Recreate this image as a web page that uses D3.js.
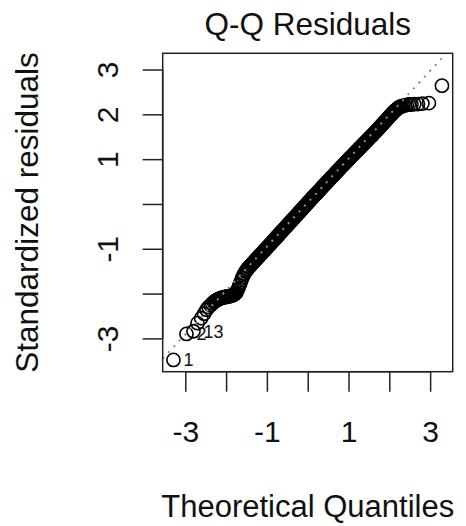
<!DOCTYPE html>
<html><head><meta charset="utf-8">
<script src="https://cdn.jsdelivr.net/npm/d3@7"></script>
<style>
html,body{margin:0;padding:0;background:#fff;}
svg{display:block;font-family:"Liberation Sans",Arial,Helvetica,sans-serif;}
</style>
</head><body>
<svg id="chart" width="466" height="526"></svg>
<script>
// ---- data ----
const theoretical = [
  -3.29,-2.97,-2.80,-2.70,-2.61,-2.54,-2.48,-2.43,-2.38,-2.34,
  -2.300,-2.275,-2.250,-2.225,-2.200,-2.175,-2.150,-2.125,-2.100,-2.075,-2.050,-2.025,
  -2.000,-1.975,-1.950,-1.925,-1.900,-1.875,-1.850,-1.825,-1.800,-1.775,-1.750,-1.725,
  -1.700,-1.675,-1.650,-1.625,-1.600,-1.575,-1.550,-1.525,-1.500,-1.475,-1.450,-1.425,
  -1.400,-1.375,-1.350,-1.325,-1.300,-1.275,-1.250,-1.225,-1.200,-1.175,-1.150,-1.125,
  -1.100,-1.075,-1.050,-1.025,-1.000,-0.975,-0.950,-0.925,-0.900,-0.875,-0.850,-0.825,
  -0.800,-0.775,-0.750,-0.725,-0.700,-0.675,-0.650,-0.625,-0.600,-0.575,-0.550,-0.525,
  -0.500,-0.475,-0.450,-0.425,-0.400,-0.375,-0.350,-0.325,-0.300,-0.275,-0.250,-0.225,
  -0.200,-0.175,-0.150,-0.125,-0.100,-0.075,-0.050,-0.025,0.000,0.025,0.050,0.075,
  0.100,0.125,0.150,0.175,0.200,0.225,0.250,0.275,0.300,0.325,0.350,0.375,
  0.400,0.425,0.450,0.475,0.500,0.525,0.550,0.575,0.600,0.625,0.650,0.675,
  0.700,0.725,0.750,0.775,0.800,0.825,0.850,0.875,0.900,0.925,0.950,0.975,
  1.000,1.025,1.050,1.075,1.100,1.125,1.150,1.175,1.200,1.225,1.250,1.275,
  1.300,1.325,1.350,1.375,1.400,1.425,1.450,1.475,1.500,1.525,1.550,1.575,
  1.600,1.625,1.650,1.675,1.700,1.725,1.750,1.775,1.800,1.825,1.850,1.875,
  1.900,1.925,1.950,1.975,2.000,2.025,2.050,2.075,2.100,2.125,2.150,2.175,
  2.200,2.225,2.250,2.275,
  2.30,2.34,2.38,2.43,2.48,2.54,2.61,2.70,2.81,2.97,3.29
];
const residuals = [
  -3.48,-2.90,-2.84,-2.66,-2.55,-2.45,-2.36,-2.30,-2.26,-2.22,
  -2.19,-2.17,-2.16,-2.14,-2.13,-2.12,-2.11,-2.10,-2.09,-2.09,-2.08,-2.08,
  -2.07,-2.07,-2.06,-2.06,-2.05,-2.05,-2.04,-2.03,-2.02,-2.00,-1.98,-1.93,
  -1.88,-1.82,-1.76,-1.70,-1.64,-1.59,-1.55,-1.51,-1.48,-1.45,-1.42,-1.40,
  -1.37,-1.35,-1.32,-1.30,-1.27,-1.25,-1.22,-1.20,-1.17,-1.15,-1.13,-1.10,
  -1.08,-1.05,-1.03,-1.00,-0.98,-0.95,-0.93,-0.90,-0.88,-0.85,-0.83,-0.80,
  -0.78,-0.75,-0.73,-0.70,-0.68,-0.65,-0.63,-0.60,-0.58,-0.55,-0.53,-0.50,
  -0.48,-0.45,-0.43,-0.40,-0.38,-0.35,-0.33,-0.30,-0.28,-0.25,-0.23,-0.20,
  -0.18,-0.15,-0.13,-0.10,-0.08,-0.05,-0.03,0.00,0.02,0.05,0.07,0.10,
  0.12,0.15,0.17,0.20,0.22,0.24,0.27,0.29,0.32,0.34,0.37,0.39,
  0.42,0.44,0.46,0.49,0.51,0.54,0.56,0.59,0.61,0.63,0.66,0.68,
  0.71,0.73,0.75,0.78,0.80,0.83,0.85,0.87,0.90,0.92,0.95,0.97,
  0.99,1.02,1.04,1.06,1.09,1.11,1.13,1.16,1.18,1.20,1.23,1.25,
  1.27,1.30,1.32,1.34,1.37,1.39,1.41,1.44,1.46,1.48,1.51,1.53,
  1.55,1.58,1.60,1.62,1.65,1.67,1.70,1.72,1.75,1.77,1.80,1.82,
  1.85,1.87,1.90,1.92,1.95,1.97,2.00,2.02,2.05,2.07,2.09,2.11,
  2.13,2.15,2.16,2.17,
  2.18,2.19,2.20,2.21,2.22,2.22,2.23,2.23,2.24,2.25,2.64
];
const pointIds = ["1","2","13"];         // labels of the three most extreme points (first three in order)
const xTicks = [-3,-2,-1,0,1,2,3];
const xTickLabels = ["-3","","-1","","1","","3"];
const yTicks = [-3,-2,-1,0,1,2,3];
const yTickLabels = ["-3","","-1","","1","2","3"];
const qqIntercept = 0.03, qqSlope = 0.98;
const titleText = "Q-Q Residuals";
const xTitle = "Theoretical Quantiles";
const yTitle = "Standardized residuals";

// ---- layout ----
const L = 162.7, R = 452.7, T = 53.3, B = 371.7;
const svg = d3.select("#chart");

// R-style limits
const xr = d3.extent(theoretical);
const xPad = (xr[1]-xr[0])*0.04;
let yr = d3.extent(residuals);
yr = [yr[0], yr[1] + (yr[1]-yr[0])*0.075];
const yPad = (yr[1]-yr[0])*0.04;

const x = d3.scaleLinear().domain([xr[0]-xPad, xr[1]+xPad]).range([L, R]);
const y = d3.scaleLinear().domain([yr[0]-yPad, yr[1]+yPad]).range([B, T]);

const ink = "#111";

svg.append("defs").append("clipPath").attr("id","plotclip")
  .append("rect").attr("x",L).attr("y",T).attr("width",R-L).attr("height",B-T);

// points
const pts = theoretical.map((t,i)=>({t, r: residuals[i]}));
svg.append("g").selectAll("circle").data(pts).join("circle")
  .attr("cx", d=>x(d.t)).attr("cy", d=>y(d.r)).attr("r", 6.6)
  .attr("fill","none").attr("stroke","#000").attr("stroke-width",1.6);

// qq line (on top, as in R)
const xd = x.domain();
svg.append("line").attr("clip-path","url(#plotclip)")
  .attr("x1", x(xd[0])).attr("y1", y(qqIntercept + qqSlope*xd[0]))
  .attr("x2", x(xd[1])).attr("y2", y(qqIntercept + qqSlope*xd[1]))
  .attr("stroke","#8c8c8c").attr("stroke-width",2).attr("stroke-dasharray","2 6");

// id labels
svg.append("g").selectAll("text").data(pointIds).join("text")
  .attr("x", (d,i)=>x(pts[i].t) + 10)
  .attr("y", (d,i)=>y(pts[i].r))
  .attr("dy","0.36em")
  .attr("font-size",18).attr("fill",ink)
  .text(d=>d);

// box
svg.append("rect").attr("x",L).attr("y",T).attr("width",R-L).attr("height",B-T)
  .attr("fill","none").attr("stroke","#222").attr("stroke-width",1.5);

// x axis
const gx = svg.append("g").attr("transform",`translate(0,${B})`)
  .call(d3.axisBottom(x).tickValues(xTicks).tickSize(20).tickSizeOuter(0)
        .tickFormat((d,i)=>xTickLabels[i]));
gx.select(".domain").remove();
gx.selectAll(".tick line").attr("stroke","#222").attr("stroke-width",1.5);
gx.selectAll(".tick text").attr("y",70.5).attr("dy",0).attr("font-size",30)
  .attr("fill",ink).attr("font-family",null);
gx.append("line").attr("x1",x(xTicks[0])).attr("x2",x(xTicks[xTicks.length-1]))
  .attr("stroke","#222").attr("stroke-width",1.5);

// y axis
const gy = svg.append("g").attr("transform",`translate(${L},0)`)
  .call(d3.axisLeft(y).tickValues(yTicks).tickSize(20).tickSizeOuter(0)
        .tickFormat((d,i)=>yTickLabels[i]));
gy.select(".domain").remove();
gy.selectAll(".tick line").attr("stroke","#222").attr("stroke-width",1.5);
gy.selectAll(".tick text").attr("x",0).attr("y",0).attr("dy",0)
  .attr("text-anchor","middle")
  .attr("transform",`translate(${118-L},0) rotate(-90)`)
  .attr("font-size",30).attr("fill",ink).attr("font-family",null);
gy.append("line").attr("y1",y(yTicks[0])).attr("y2",y(yTicks[yTicks.length-1]))
  .attr("stroke","#222").attr("stroke-width",1.5);

// titles
const cx = (L+R)/2, cy = (T+B)/2;
svg.append("text").attr("x",cx).attr("y",35).attr("text-anchor","middle")
  .attr("font-size",31.5).attr("fill",ink).text(titleText);
svg.append("text").attr("x",cx).attr("y",517).attr("text-anchor","middle")
  .attr("font-size",31).attr("fill",ink).text(xTitle);
svg.append("text").attr("transform",`translate(38,${cy}) rotate(-90)`)
  .attr("text-anchor","middle").attr("font-size",31.5).attr("fill",ink).text(yTitle);
</script>
</body></html>
